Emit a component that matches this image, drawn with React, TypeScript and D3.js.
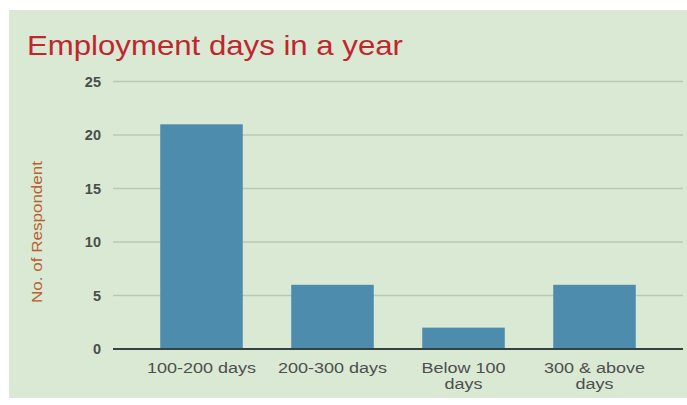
import React, { useEffect, useRef } from 'react'
import * as d3 from 'd3'

const categories = ['100-200 days', '200-300 days', 'Below 100|days', '300 & above|days']
const respondents = [21, 6, 2, 6]
const yTicks = [0, 5, 10, 15, 20, 25]

export default function App() {
  const ref = useRef<SVGSVGElement | null>(null)

  useEffect(() => {
    if (!ref.current) return
    const svg = d3.select(ref.current)
    svg.selectAll('*').remove()
    const font = '"Liberation Sans", Arial, sans-serif'

    svg.append('rect').attr('x', 0).attr('y', 0).attr('width', 687).attr('height', 405).attr('fill', '#ffffff')
    svg.append('rect').attr('x', 9).attr('y', 10).attr('width', 678).attr('height', 388).attr('fill', '#d9e9d4')

    const y = d3.scaleLinear().domain([0, 25]).range([349, 81.5])
    const x = d3.scaleBand<string>().domain(categories).range([136, 660]).paddingInner(0.37).paddingOuter(0.185)

    // gridlines
    svg
      .append('g')
      .selectAll('line')
      .data(yTicks.filter((t) => t > 0))
      .join('line')
      .attr('x1', 113)
      .attr('x2', 683)
      .attr('y1', (d) => y(d))
      .attr('y2', (d) => y(d))
      .attr('stroke', '#b9c9b4')
      .attr('stroke-width', 1.5)

    svg
      .append('g')
      .selectAll('text')
      .data(yTicks)
      .join('text')
      .attr('x', 101)
      .attr('y', (d) => y(d))
      .attr('dy', '0.35em')
      .attr('text-anchor', 'end')
      .attr('fill', '#4a4f4a')
      .style('font-family', font)
      .style('font-size', '14.5px')
      .style('font-weight', 700)
      .text((d) => d)

    svg
      .append('g')
      .selectAll('rect')
      .data(respondents)
      .join('rect')
      .attr('x', (_, i) => x(categories[i]) as number)
      .attr('width', x.bandwidth())
      .attr('y', (d) => y(d))
      .attr('height', (d) => y(0) - y(d))
      .attr('fill', '#4e8cae')

    svg
      .append('line')
      .attr('x1', 113)
      .attr('x2', 683)
      .attr('y1', y(0))
      .attr('y2', y(0))
      .attr('stroke', '#34433f')
      .attr('stroke-width', 2)

    // category labels, stretched a bit wider like the source
    categories.forEach((d) => {
      const cx = (x(d) as number) + x.bandwidth() / 2
      const t = svg
        .append('text')
        .attr('transform', `translate(${cx},373) scale(1.2,1)`)
        .attr('text-anchor', 'middle')
        .attr('fill', '#4f4f4f')
        .style('font-family', font)
        .style('font-size', '15px')
      d.split('|').forEach((line, i) => {
        t.append('tspan')
          .attr('x', 0)
          .attr('dy', i === 0 ? 0 : 16)
          .text(line)
      })
    })

    svg
      .append('text')
      .attr('transform', 'translate(42,232) rotate(-90)')
      .attr('text-anchor', 'middle')
      .attr('fill', '#b8602e')
      .attr('textLength', 142)
      .attr('lengthAdjust', 'spacingAndGlyphs')
      .style('font-family', font)
      .style('font-size', '14px')
      .text('No. of Respondent')

    svg
      .append('text')
      .attr('x', 27)
      .attr('y', 55)
      .attr('fill', '#c0262e')
      .attr('textLength', 376)
      .attr('lengthAdjust', 'spacingAndGlyphs')
      .style('font-family', font)
      .style('font-size', '28px')
      .text('Employment days in a year')
  }, [])

  return (
    <svg
      ref={ref}
      width={687}
      height={405}
      style={{ position: 'absolute', left: 0, top: 0, display: 'block' }}
    />
  )
}
